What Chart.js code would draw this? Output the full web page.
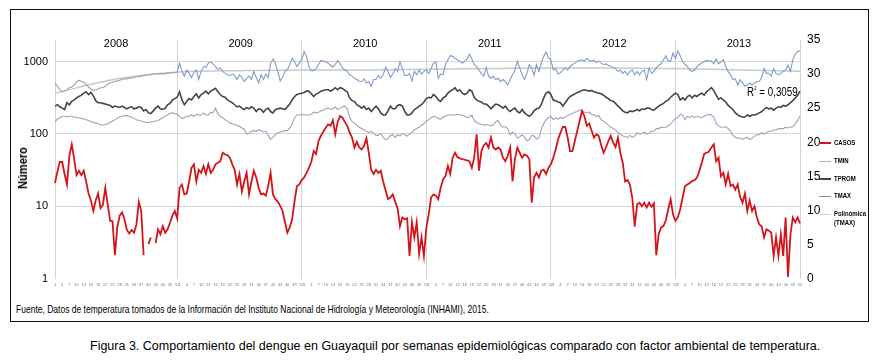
<!DOCTYPE html>
<html>
<head>
<meta charset="utf-8">
<script src="https://cdn.jsdelivr.net/npm/chart.js@4.4.1/dist/chart.umd.min.js"></script>
<style>
  body { margin: 0; width: 881px; height: 360px; position: relative; overflow: hidden; background: #fff;
         font-family: 'Liberation Sans', Arial, sans-serif; color: #000; }
  #marco { position: absolute; left: 10px; top: 9px; width: 859px; height: 313px; border: 1.5px solid #111; box-sizing: border-box; }
  #grafico { position: absolute; left: 0; top: 0; }
  #numero { position: absolute; left: -2px; top: 160px; width: 50px; text-align: center; font: bold 13px 'Liberation Sans', Arial, sans-serif;
            transform: rotate(-90deg) scaleX(0.85); transform-origin: 25px 8px; }
  #r2 { position: absolute; left: 747px; top: 85px; font-size: 12.5px; white-space: nowrap; transform: scaleX(0.78); transform-origin: 0 0; }
  #r2 sup { font-size: 6px; vertical-align: 6px; }
  .ley-linea { position: absolute; left: 819px; width: 12px; height: 0; border-top: 2px solid; }
  .ley-txt { position: absolute; left: 834px; font-size: 7.5px; font-weight: bold; line-height: 8.5px; white-space: nowrap;
             transform: scaleX(0.8); transform-origin: 0 0; }
  #fuente { position: absolute; left: 16px; top: 303px; font-size: 10.5px; white-space: nowrap; transform: scaleX(0.81); transform-origin: 0 0; }
  #pie { position: absolute; left: 90px; top: 339px; font-size: 12.5px; white-space: nowrap; }
</style>
</head>
<body>
<div id="marco"></div>
<canvas id="grafico" width="881" height="300"></canvas>
<div id="numero">Número</div>
<div id="r2">R<sup>2</sup> = 0,3059</div>
<div class="ley-linea" style="top:142px;border-color:#d4141b"></div><div class="ley-txt" style="top:139px">CASOS</div>
<div class="ley-linea" style="top:161px;border-color:#b9a9c9;border-top-width:1.5px"></div><div class="ley-txt" style="top:157px">TMIN</div>
<div class="ley-linea" style="top:178px;border-color:#444"></div><div class="ley-txt" style="top:175px">TPROM</div>
<div class="ley-linea" style="top:196px;border-color:#8a929c;border-top-width:1.5px"></div><div class="ley-txt" style="top:192px">TMAX</div>
<div class="ley-linea" style="top:214px;border-color:#d2d2d2;border-top-width:1.5px"></div><div class="ley-txt" style="top:210px">Polinómica<br>(TMAX)</div>
<div id="fuente">Fuente, Datos de temperatura tomados de la Información del Instituto Nacional de Hidrología y Meteorología (INHAMI), 2015.</div>
<div id="pie">Figura 3. Comportamiento del dengue en Guayaquil por semanas epidemiológicas comparado con factor ambiental de temperatura.</div>

<script>
// años y semanas epidemiológicas
const anios = ['2008', '2009', '2010', '2011', '2012', '2013'];
const semanaTicks = ['1', '4', '7', '10', '13', '16', '19', '22', '25', '28', '31', '34', '37', '40', '43', '46', '49', '52'];
const lineasAnio = [0, 51, 103, 155, 207, 259, 311];

// casos de dengue por semana (eje log)
const casos = [
  21, 30, 41, 41, 28, 20, 50, 72, 45, 27, 31, 27, 31, 22, 15, 12, 8.6, 12, 15, 9.4, 10.5, 18, 10.6, 6.3, 6.2, 2.1, 5.1, 7.4, 8.2, 6.6, 4.7, 4.2, 4.7, 4.3, 5.6, 11.5, 8.5, 2.1, null, 3.0, 3.7, null, 3.1, 4.8, 4.1, 5.3, 4.3, 4.8, 5.9, 7.4, 8.6, 6.8,
  18, 20, 14.6, 15, 22, 34, 38, 22, 32, 29, 36, 28, 38, 29, 32, 38, 40, 42, 55, 52, 51, 47, 38, 32, 20, 28, 16, 22, 29, 14.6, 22, 31, 25, 18, 14.6, 15, 14, 19, 29, 14.6, 12.5, 11.6, 10.1, 8.6, 6.0, 4.3, 5.1, 6.6, 11.8, 19, 20, 23,
  25, 29, 34, 41, 58, 53, 80, 94, 108, 122, 136, 130, 155, 99, 147, 177, 168, 147, 130, 104, 89, 65, 78, 65, 61, 68, 87, 55, 32, 28, 32, 29, 31, 22, 16.6, 12.6, 13.2, 14.6, 11.6, 9.4, 5.3, 7, 6.6, 6.8, 2.05, 6.0, 3.7, 6, 2.2, 3.7, 2.05, 5,
  7.7, 13.2, 14.6, 14, 12.5, 18, 23.6, 26, 36, 28, 47, 55, 48, 46, 45, 44, 43, 42, 34, 47, 99, 31, 58, 70, 75, 65, 89, 65, 61, 65, 61, 47, 42, 50, 65, 22, 45, 65, 55, 47, 52, 50, 45, 11.2, 25, 29, 25, 31, 32, 28, 34, 38,
  47, 61, 84, 104, 125, 125, 89, 58, 58, 80, 110, 151, 208, 177, 130, 139, 112, 89, 99, 94, 70, 55, 65, 80, 94, 76, 66, 89, 55, 40, 22, 23, 20, 13, 5.2, 10.6, 11.2, 10, 11.2, 9.6, 11.2, 9.8, 11, 2.1, 4.1, 5.1, 5.3, 6.4, 9.1, 12.5, 7.7, 6.3,
  7, 9.1, 13.2, 19, 20, 21, 22.4, 23, 25, 31, 40, 53, 55, 57, 65, 72, 42, 47, 26, 29, 20, 28, 19, 20, 17, 20, 13.4, 11.2, 15, 8.6, 12, 8.6, 10, 7, 5.6, 5.3, 3.7, 4.8, 4.6, 4.3, 2.05, 3.7, 2.05, 4.1, 2.05, 7, 1.05, 4, 7, 6, 7, 5.8
];

// temperatura mínima (°C, eje derecho)
const tmin = [
  23.0, 23.4, 23.6, 23.8, 23.8, 23.7, 23.8, 23.8, 23.7, 23.6, 23.6, 23.5, 23.4, 23.3, 23.2, 23.0, 22.9, 22.8, 22.7, 22.6, 22.5, 22.6, 22.7, 22.9, 23.1, 23.3, 23.5, 23.7, 23.8, 23.9, 23.9, 23.8, 23.7, 23.5, 23.3, 23.2, 23.1, 23.0, 22.9, 22.9, 23.0, 23.0, 23.1, 23.2, 23.4, 23.6, 23.8, 24.0, 24.2, 24.3, 24.2, 24.1,
  23.8, 23.5, 23.6, 23.8, 23.8, 24.0, 23.8, 24.1, 24.0, 24.0, 24.3, 24.0, 24.0, 24.4, 24.3, 25.0, 24.2, 23.8, 23.6, 23.3, 23.1, 22.8, 22.7, 22.6, 22.5, 22.3, 22.1, 21.9, 21.2, 21.3, 21.6, 21.7, 21.6, 21.8, 21.7, 21.5, 21.6, 21.0, 20.4, 20.7, 21.1, 21.4, 21.5, 21.6, 21.7, 21.7, 22.1, 22.7, 23.6, 24.0, 24.0, 24.1,
  24.0, 24.0, 24.0, 24.1, 24.4, 24.3, 24.4, 24.6, 24.7, 24.9, 25.0, 24.8, 24.9, 25.2, 24.8, 25.0, 25.2, 25.3, 24.9, 23.6, 23.1, 22.8, 22.5, 22.2, 22.0, 21.8, 21.6, 21.4, 21.6, 21.3, 21.0, 21.0, 21.3, 20.7, 20.4, 20.5, 21.0, 21.1, 20.7, 21.1, 20.9, 21.3, 21.1, 20.9, 21.2, 21.4, 21.8, 22.0, 22.2, 22.5, 22.7, 23.1,
  23.3, 23.6, 23.8, 23.7, 23.5, 23.4, 23.7, 23.8, 24.0, 24.0, 24.0, 24.0, 24.1, 24.0, 24.0, 23.8, 23.6, 23.7, 24.0, 23.2, 22.9, 22.7, 22.6, 22.5, 22.6, 22.5, 22.4, 22.6, 23.0, 23.2, 22.5, 22.2, 22.3, 22.0, 21.1, 21.5, 21.2, 20.6, 20.8, 21.1, 20.7, 20.2, 20.4, 21.0, 20.9, 20.5, 20.6, 21.9, 22.7, 23.3, 23.6, 23.8,
  23.3, 23.6, 23.4, 23.6, 23.5, 23.7, 23.9, 24.1, 24.2, 24.4, 24.5, 24.7, 24.7, 24.4, 24.3, 24.4, 24.1, 24.0, 23.8, 23.9, 23.3, 23.1, 22.8, 22.5, 22.2, 22.0, 21.8, 21.4, 21.2, 20.9, 20.8, 20.7, 21.0, 20.7, 20.9, 21.4, 21.2, 21.3, 21.5, 21.2, 21.3, 21.6, 21.6, 22.0, 22.0, 22.2, 22.2, 22.2, 22.4, 22.7, 23.1, 23.5,
  23.6, 24.1, 24.0, 23.3, 23.8, 23.6, 23.9, 23.6, 23.8, 23.7, 23.6, 23.8, 24.0, 24.1, 24.0, 23.7, 22.8, 22.4, 22.2, 22.2, 22.3, 22.0, 21.6, 21.0, 20.7, 20.6, 20.6, 20.4, 20.6, 20.7, 20.4, 20.6, 20.9, 21.1, 21.1, 21.4, 21.2, 21.4, 21.6, 21.6, 21.8, 21.8, 22.0, 22.0, 22.0, 22.2, 22.1, 22.2, 22.3, 22.7, 23.2, 23.8
];

// temperatura promedio
const tprom = [
  25.3, 25.5, 25.2, 25.0, 24.8, 25.8, 25.5, 26.0, 26.2, 26.5, 26.7, 26.9, 27.2, 27.4, 27.0, 27.3, 26.8, 26.1, 25.8, 25.8, 25.7, 25.6, 25.5, 25.4, 25.1, 25.3, 25.2, 25.1, 25.3, 25.1, 24.9, 25.1, 25.2, 24.9, 25.0, 25.2, 25.1, 24.6, 24.8, 24.3, 24.2, 24.6, 25.0, 25.3, 24.9, 24.8, 25.0, 25.5, 25.7, 26.2, 26.4, 26.6,
  27.4, 26.2, 25.5, 26.0, 26.4, 26.2, 26.7, 27.1, 26.5, 27.0, 27.2, 27.5, 27.1, 27.5, 27.7, 27.9, 27.4, 27.0, 26.7, 26.6, 26.2, 26.0, 25.8, 25.5, 25.2, 25.3, 25.0, 24.8, 25.1, 24.9, 25.2, 25.0, 24.5, 24.9, 24.8, 24.4, 24.8, 25.0, 24.5, 24.3, 24.8, 24.9, 25.0, 24.9, 24.8, 25.2, 25.6, 26.2, 26.7, 27.0, 27.1, 27.2,
  27.3, 27.5, 27.5, 27.1, 26.7, 27.1, 27.2, 27.5, 27.6, 27.7, 27.7, 27.5, 27.7, 28.0, 27.7, 28.0, 27.9, 27.6, 27.4, 26.5, 26.1, 26.0, 25.5, 25.3, 25.0, 25.3, 24.8, 25.0, 24.5, 24.9, 25.3, 24.9, 24.3, 24.0, 24.0, 24.6, 25.3, 24.9, 24.9, 25.4, 25.5, 25.3, 24.5, 24.0, 24.0, 24.3, 24.8, 25.0, 25.3, 25.5, 25.9, 26.4,
  26.6, 26.5, 27.0, 26.7, 26.2, 26.0, 26.5, 26.7, 27.2, 27.5, 27.7, 28.0, 27.5, 27.7, 27.2, 27.0, 27.2, 27.7, 27.5, 26.6, 26.2, 26.0, 25.9, 25.6, 25.6, 25.3, 24.9, 25.3, 25.6, 25.5, 25.3, 25.0, 25.3, 24.8, 24.5, 24.8, 25.0, 24.5, 24.3, 24.8, 24.3, 24.0, 23.8, 24.1, 24.6, 24.9, 25.0, 25.5, 26.5, 27.2, 27.4, 27.0,
  26.2, 26.1, 25.9, 25.8, 25.3, 25.8, 26.3, 26.7, 26.9, 27.1, 27.3, 27.4, 27.6, 27.7, 27.6, 27.5, 27.6, 27.4, 27.3, 27.2, 27.1, 26.9, 26.6, 26.4, 26.1, 26.0, 25.7, 25.3, 25.0, 24.6, 24.4, 24.3, 24.6, 24.5, 24.6, 24.8, 24.6, 24.9, 24.8, 25.0, 25.0, 24.8, 24.7, 25.0, 25.3, 25.5, 25.7, 26.0, 26.2, 26.6, 26.9, 27.2,
  27.0, 26.2, 26.5, 26.2, 26.7, 26.9, 26.5, 26.9, 26.7, 27.0, 27.2, 26.9, 27.4, 27.7, 28.0, 27.6, 26.9, 26.3, 26.5, 26.2, 25.9, 25.4, 25.1, 24.8, 24.3, 24.0, 23.8, 23.7, 23.7, 24.0, 23.8, 24.0, 24.0, 24.1, 24.3, 24.5, 24.8, 25.1, 24.9, 25.0, 24.7, 25.0, 25.2, 25.1, 25.4, 25.3, 25.5, 25.8, 26.1, 26.5, 26.9, 27.5
];

// temperatura máxima
const tmax = [
  28.7, 28.2, 27.7, 27.4, 27.5, 27.7, 28.0, 28.1, 28.4, 28.8, 29.1, 28.9, 28.8, 28.5, 28.1, 27.8, 27.6, 27.7, 27.8, 28.0, 28.0, 28.2, 28.5, 28.7, 28.8, 28.9, 29.0, 29.1, 29.2, 29.3, 29.3, 29.4, 29.4, 29.5, 29.6, 29.6, 29.7, 29.8, 29.8, 29.9, 29.9, 30.0, 30.0, 30.0, 30.1, 30.0, 30.1, 30.1, 30.2, 30.2, 30.2, 30.3,
  31.6, 30.4, 29.7, 30.6, 30.1, 29.5, 30.3, 30.6, 29.2, 30.4, 31.1, 31.0, 31.6, 31.8, 31.5, 31.1, 30.7, 30.9, 30.4, 30.1, 29.9, 29.8, 30.0, 29.8, 29.2, 29.9, 29.5, 28.9, 29.4, 29.7, 29.2, 30.4, 29.5, 28.7, 29.9, 29.2, 30.0, 29.5, 31.6, 32.2, 31.6, 30.4, 29.0, 29.5, 30.4, 30.6, 31.4, 32.3, 31.8, 31.1, 31.6, 32.1,
  33.3, 32.6, 31.1, 30.5, 30.5, 30.8, 31.4, 32.0, 31.9, 31.8, 31.6, 31.3, 31.0, 31.4, 32.0, 31.5, 30.9, 30.6, 30.4, 29.9, 29.7, 29.4, 29.2, 28.9, 28.9, 29.3, 28.7, 28.9, 28.2, 29.2, 29.2, 29.8, 29.4, 29.9, 31.0, 30.4, 29.5, 30.0, 30.8, 30.4, 31.8, 30.8, 29.8, 29.8, 30.1, 29.0, 30.4, 29.9, 30.6, 30.0, 30.4, 30.6,
  30.1, 30.8, 31.6, 31.8, 29.4, 30.0, 29.9, 31.4, 32.1, 32.7, 32.6, 32.3, 32.1, 31.9, 31.6, 31.9, 32.2, 32.9, 32.2, 31.4, 31.1, 30.6, 30.0, 29.7, 31.0, 29.7, 29.4, 29.7, 29.2, 29.4, 28.9, 29.2, 28.9, 28.4, 29.2, 29.9, 30.6, 31.9, 30.9, 29.9, 29.2, 30.1, 31.4, 30.9, 29.8, 31.4, 30.4, 31.6, 32.6, 33.2, 32.4, 32.1,
  30.6, 30.8, 30.0, 30.2, 30.6, 30.9, 30.6, 31.1, 31.4, 31.6, 31.9, 32.0, 32.1, 31.9, 32.3, 32.0, 31.9, 32.0, 31.7, 31.9, 31.6, 31.4, 31.5, 31.3, 31.1, 31.0, 30.8, 30.4, 30.6, 30.1, 30.4, 29.9, 30.4, 30.6, 29.9, 30.4, 29.9, 30.4, 30.6, 29.2, 30.9, 30.1, 30.4, 30.9, 31.3, 31.5, 32.1, 32.7, 31.9, 31.9, 33.1, 32.3,
  33.4, 32.7, 31.8, 31.4, 31.1, 30.6, 30.4, 30.6, 31.1, 31.4, 31.6, 31.8, 32.0, 31.9, 31.9, 31.5, 32.2, 31.5, 31.8, 32.1, 31.1, 30.4, 29.9, 29.2, 29.3, 28.4, 29.2, 28.7, 28.2, 28.4, 28.7, 28.4, 28.7, 28.9, 28.9, 29.5, 30.8, 30.1, 30.1, 29.7, 30.8, 30.1, 29.9, 30.1, 30.4, 30.6, 31.3, 30.4, 32.1, 32.9, 33.3, 33.4
];

const polSemanas = [0, 26, 52, 78, 104, 130, 156, 182, 208, 234, 260, 286, 311];
const polValores = [27.2, 29.3, 30.3, 30.5, 30.6, 30.6, 30.7, 30.8, 30.9, 30.9, 30.8, 30.6, 30.4];

const semanas = [];
anios.forEach(() => { for (let s = 1; s <= 52; s++) semanas.push(String(s)); });

const polinomica = semanas.map(() => null);
polSemanas.forEach((i, k) => { polinomica[i] = polValores[k]; });

const etiquetasAnio = {
    id: 'etiquetasAnio',
    afterDatasetsDraw(chart) {
        const { ctx, scales: { x } } = chart;
        ctx.save();
        ctx.font = '11px "Liberation Sans", Arial, sans-serif';
        ctx.fillStyle = '#000';
        ctx.textAlign = 'center';
        ctx.textBaseline = 'middle';
        anios.forEach((a, k) => {
            const xm = (x.getPixelForValue(k * 52) + x.getPixelForValue(k * 52 + 51)) / 2;
            ctx.fillText(a, xm, 44);
        });
        ctx.restore();
    }
};

const ctx = document.getElementById('grafico').getContext('2d');
new Chart(ctx, {
    type: 'line',
    data: {
        labels: semanas,
        datasets: [
            { label: 'CASOS', data: casos, yAxisID: 'y', borderColor: '#d4141b', borderWidth: 1.8, spanGaps: false },
            { label: 'TMIN', data: tmin, yAxisID: 'y1', borderColor: '#ab9bbd', borderWidth: 1.1 },
            { label: 'TPROM', data: tprom, yAxisID: 'y1', borderColor: '#454545', borderWidth: 1.6 },
            {
                label: 'TMAX', data: tmax, yAxisID: 'y1', borderColor: '#7f9cc6', borderWidth: 1.1,
                segment: { borderColor: c => c.p0DataIndex < 51 ? '#98a4b4' : undefined }
            },
            { label: 'Polinómica (TMAX)', data: polinomica, yAxisID: 'y1', borderColor: '#c9c9c9', borderWidth: 1.5, spanGaps: true, tension: 0.4, cubicInterpolationMode: 'monotone' }
        ]
    },
    options: {
        responsive: false,
        animation: false,
        elements: { point: { radius: 0 }, line: { tension: 0 } },
        layout: { padding: { left: 10, top: 40, right: 0, bottom: 0 } },
        plugins: { legend: { display: false }, tooltip: { enabled: false } },
        scales: {
            x: {
                grid: {
                    drawTicks: false,
                    color: c => lineasAnio.includes(c.index) ? '#d3d3d3' : 'rgba(0,0,0,0)'
                },
                border: { display: false },
                ticks: {
                    autoSkip: false, maxRotation: 0, minRotation: 0, padding: 4,
                    font: { size: 4, family: 'Liberation Sans' }, color: '#777',
                    callback: function (v, i) {
                        const s = semanas[i];
                        return semanaTicks.includes(s) ? s : '';
                    }
                },
                afterFit: s => { s.height = 21.5; }
            },
            y: {
                type: 'logarithmic',
                position: 'left',
                min: 1,
                max: 2000,
                afterBuildTicks: s => { s.ticks = [1, 10, 100, 1000].map(v => ({ value: v })); },
                grid: { drawTicks: false, color: c => (c.tick && c.tick.value === 1) ? 'rgba(0,0,0,0)' : '#d6d6d6' },
                border: { display: false },
                ticks: {
                    padding: 7, color: '#000',
                    font: { size: 11, family: '"Liberation Sans", Arial, sans-serif' },
                    callback: v => String(v)
                },
                afterFit: s => { s.width = 45; }
            },
            y1: {
                position: 'right',
                min: 0,
                max: 35,
                grid: { display: false, drawTicks: false },
                border: { display: false },
                ticks: {
                    stepSize: 5, padding: 7, color: '#000',
                    font: { size: 12, family: '"Liberation Sans", Arial, sans-serif' }
                },
                afterFit: s => { s.width = 81; }
            }
        }
    },
    plugins: [etiquetasAnio]
});
</script>
</body>
</html>
